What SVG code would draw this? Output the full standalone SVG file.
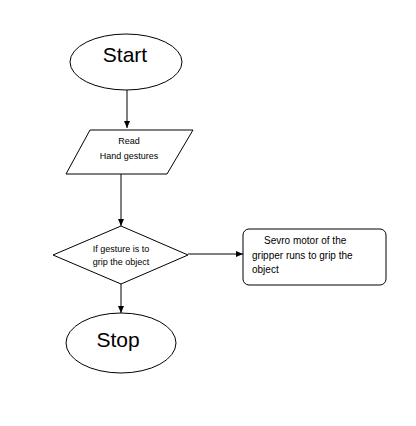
<svg xmlns="http://www.w3.org/2000/svg" width="416" height="426" viewBox="0 0 416 426">
<style>
.shape{fill:#fff;stroke:#000;stroke-width:1}
.conn{stroke:#000;stroke-width:1;fill:none;marker-end:url(#ah)}
.big{font-family:"Liberation Sans",Arial,sans-serif;font-size:21px;fill:#000;text-anchor:middle}
.sm{font-family:"Liberation Sans",Arial,sans-serif;font-size:9px;fill:#000;text-anchor:middle}
.md{font-family:"Liberation Sans",Arial,sans-serif;font-size:10px;fill:#000}
</style>
<defs>
<marker id="ah" markerWidth="7" markerHeight="6" refX="7" refY="3" orient="auto" markerUnits="userSpaceOnUse">
<path d="M0,0 L7,3 L0,6 Z" fill="#000"/>
</marker>
</defs>
<rect width="416" height="426" fill="#fff"/>
<g id="connectors">
<line class="conn" x1="127" y1="90" x2="127" y2="128"/>
<line class="conn" x1="121" y1="174" x2="121" y2="226"/>
<line class="conn" x1="188" y1="254" x2="243" y2="254"/>
<line class="conn" x1="121" y1="284" x2="121" y2="313"/>
</g>
<g id="start">
<ellipse class="shape" cx="126" cy="62" rx="56" ry="28"/>
<text class="big" x="125" y="62">Start</text>
</g>
<g id="read">
<polygon class="shape" points="90,130 193,130 167,174 66,174"/>
<text class="sm" x="129" y="144">Read</text>
<text class="sm" x="129" y="159">Hand gestures</text>
</g>
<g id="decision">
<polygon class="shape" points="121,226 188,255 121,284 53,255"/>
<text class="sm" x="121" y="252">If gesture is to</text>
<text class="sm" x="121" y="265">grip the object</text>
</g>
<g id="servo">
<rect class="shape" x="243" y="229" width="143" height="56" rx="6" ry="6"/>
<text class="md" x="264" y="244">Sevro motor of the</text>
<text class="md" x="252" y="259">gripper runs to grip the</text>
<text class="md" x="252" y="273">object</text>
</g>
<g id="stop">
<ellipse class="shape" cx="121" cy="343" rx="55" ry="30"/>
<text class="big" x="118" y="347">Stop</text>
</g>
</svg>
